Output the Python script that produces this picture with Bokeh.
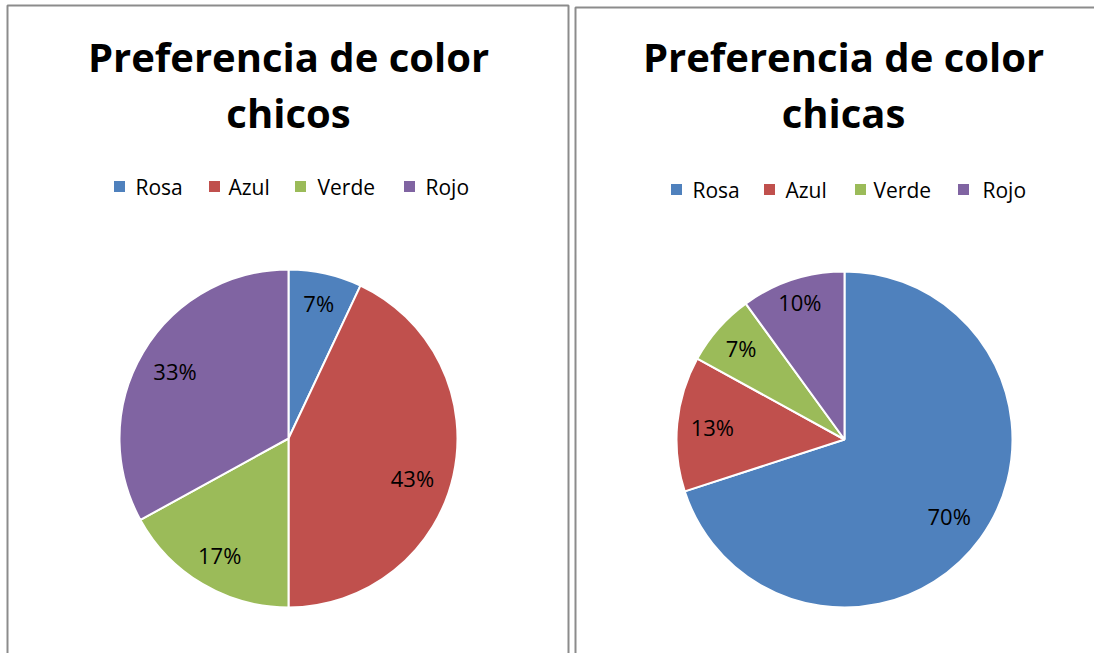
import math
from bokeh.plotting import figure
from bokeh.models import Range1d, ColumnDataSource
from bokeh.core.properties import value
from bokeh.embed import file_html
from bokeh.resources import INLINE

# ---- data ----
categories = ["Rosa", "Azul", "Verde", "Rojo"]
chicos = [7, 43, 17, 33]
chicas = [70, 13, 7, 10]
titles = [["Preferencia de color", "chicos"], ["Preferencia de color", "chicas"]]
colors = ["#4F81BD", "#C0504D", "#9BBB59", "#8064A2"]

W, H = 1094, 653
FONT = value("Open Sans")

def Y(sy):
    return H - sy

def X(sx):
    return sx

p = figure(width=W, height=H, x_range=Range1d(0, W), y_range=Range1d(0, H),
           output_backend="svg", toolbar_location=None, min_border=0)
p.axis.visible = False
p.grid.visible = False
p.outline_line_color = None
p.background_fill_color = "white"

# panel borders
border = "#8c8c8c"
p.multi_line(xs=[[X(7), X(7), X(568), X(568)], [X(575), X(575), X(1102)]],
             ys=[[Y(670), Y(5), Y(5), Y(670)], [Y(670), Y(7), Y(7)]],
             line_color=border, line_width=2)

panels = [
    dict(vals=chicos, title=titles[0], cx=288, cy=438, r=169, tx=288,
         lab_r=[0.82, 0.77, 0.8, 0.78], lab_da=[0.0, -0.09, 0.0, 0.0],
         leg_sq=[119, 214, 300, 409], leg_tx=[135, 228, 317, 425], leg_y=186),
    dict(vals=chicas, title=titles[1], cx=844, cy=439, r=168, tx=843,
         lab_r=[0.77, 0.79, 0.82, 0.86], lab_da=[0.0, 0.0, 0.0, 0.0],
         leg_sq=[676, 769, 860, 963], leg_tx=[692, 785, 873, 982], leg_y=189),
]

for pn in panels:
    vals = pn["vals"]
    total = float(sum(vals))
    starts, ends, lx, ly, labels = [], [], [], [], []
    cum = 0.0
    for i, v in enumerate(vals):
        a0 = math.pi / 2 - 2 * math.pi * cum / total
        cum += v
        a1 = math.pi / 2 - 2 * math.pi * cum / total
        starts.append(a1)
        ends.append(a0)
        mid = (a0 + a1) / 2 + pn["lab_da"][i]
        rr = pn["lab_r"][i] * pn["r"]
        lx.append(X(pn["cx"]) + rr * math.cos(mid))
        ly.append(Y(pn["cy"]) + rr * math.sin(mid))
        labels.append(f"{round(100 * v / total)}%")
    src = ColumnDataSource(dict(start=starts, end=ends, color=colors))
    p.wedge(x=X(pn["cx"]), y=Y(pn["cy"]), radius=pn["r"], start_angle="start",
            end_angle="end", direction="anticlock", fill_color="color",
            line_color="white", line_width=2, source=src)
    p.text(x=lx, y=ly, text=labels, text_font=FONT, text_font_size="22px",
           text_align="center", text_baseline="middle", text_color="#000000")
    # title
    p.text(x=[X(pn["tx"]), X(pn["tx"])], y=[Y(56), Y(112)], text=pn["title"],
           text_font=FONT, text_font_style="bold", text_font_size="40px",
           text_align="center", text_baseline="middle", text_color="#000000")
    # legend
    p.rect(x=[X(s) for s in pn["leg_sq"]], y=[Y(pn["leg_y"])] * 4, width=11, height=11,
           fill_color=colors, line_color=None)
    p.text(x=[X(s) for s in pn["leg_tx"]], y=[Y(pn["leg_y"])] * 4, text=categories,
           text_font=FONT, text_font_size="21px", text_align="left",
           text_baseline="middle", text_color="#000000")

open("out.html", "w").write(file_html(p, INLINE))
